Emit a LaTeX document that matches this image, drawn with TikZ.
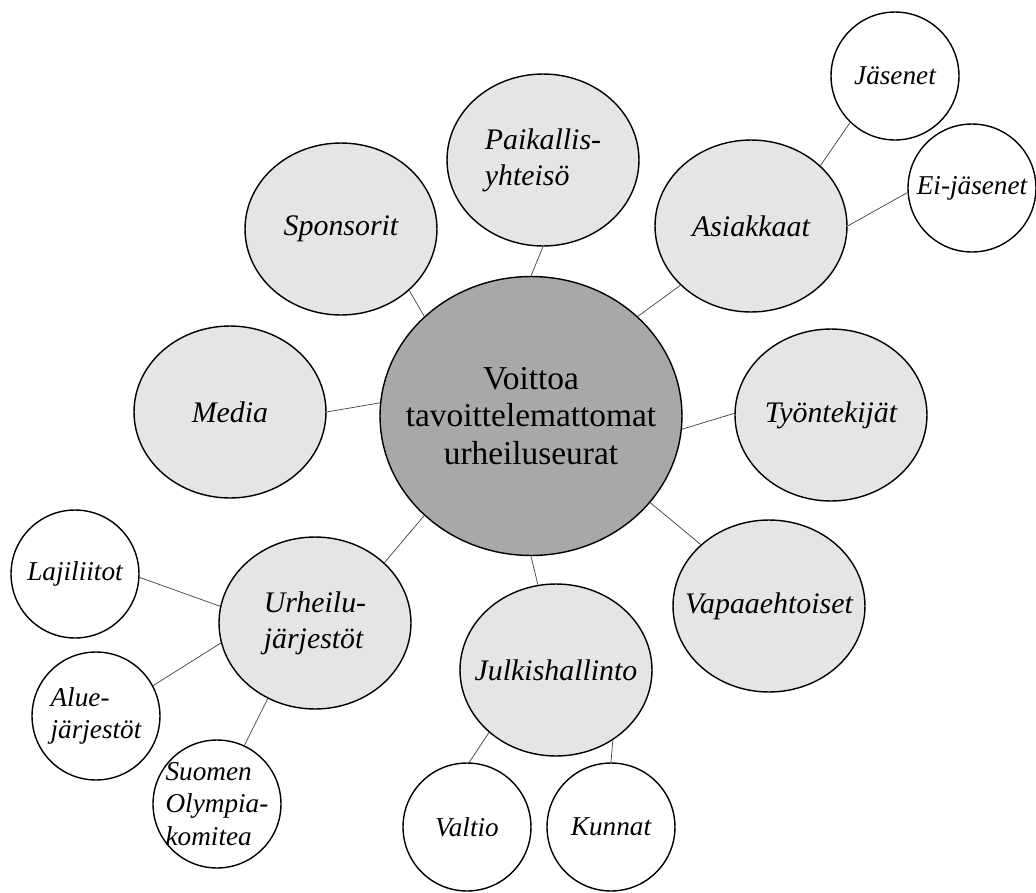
\documentclass[tikz,border=0pt]{standalone}
\usepackage{fontspec}
\setmainfont{Liberation Serif}
\usepackage{tikz}
\usetikzlibrary{shapes.geometric}

\begin{document}
\begin{tikzpicture}[x=0.02cm,y=-0.02cm,
    lbl/.style={font=\fontsize{17}{20.5}\selectfont\itshape,align=left,inner sep=0pt},
    hub/.style={ellipse,draw,line width=0.8pt,fill=black!34,inner sep=0pt,
        minimum width=6.04cm,minimum height=5.58cm,
        label={[lbl,font=\fontsize{19}{21.5}\selectfont,align=center]center:#1}},
    group/.style={ellipse,draw,line width=0.8pt,fill=black!10,inner sep=0pt,
        minimum width=3.84cm,minimum height=3.44cm,label={[lbl]center:#1}},
    member/.style={circle,draw,line width=0.8pt,fill=white,inner sep=0pt,
        minimum size=2.56cm,label={[lbl,font=\fontsize{15.5}{18.5}\selectfont\itshape]center:#1}},
    link/.style={draw=black!75,line width=0.4pt}]
      \useasboundingbox (0,0) rectangle (1036,893);
      \node[hub={Voittoa\\tavoittelemattomat\\urheiluseurat}] (hub) at (531,416) {};
      \node[group={Sponsorit}] (spons) at (341,229) {};
      \node[group={Paikallis-\\yhteisö}] (paik) at (543,160) {};
      \node[group={Asiakkaat}] (asiak) at (751,226) {};
      \node[group={Media}] (media) at (230,412) {};
      \node[group={Työntekijät}] (tyon) at (831,415) {};
      \node[group={Vapaaehtoiset}] (vapaa) at (769,606) {};
      \node[group={Julkishallinto}] (julk) at (556,670) {};
      \node[group={Urheilu-\\järjestöt}] (urh) at (315,623) {};
      \node[member={Jäsenet}] (jas) at (895,76) {};
      \node[member={Ei-jäsenet}] (eij) at (972,188) {};
      \node[member={Lajiliitot}] (laji) at (75,574) {};
      \node[member={Alue-\\järjestöt}] (alue) at (96,716) {};
      \node[member={Suomen\\Olympia-\\komitea}] (suomen) at (217,804) {};
      \node[member={Valtio}] (valtio) at (467,827) {};
      \node[member={Kunnat}] (kunnat) at (611,827) {};
      \path
      (media.east) edge [link] (hub.175)
      (tyon.179) edge [link] (hub.-5)
      (spons.-42) edge [link] (hub.137)
      (paik.south) edge [link] (hub.north)
      (asiak.220) edge [link] (hub.43)
      (urh.41) edge [link] (hub.223)
      (julk.102) edge [link] (hub.south)
      (vapaa.138) edge [link] (hub.-36);
      \path
      (asiak.41) edge [link] (jas.226)
      (asiak.east) edge [link] (eij.184)
      (urh.170) edge [link] (laji.-3)
      (urh.192) edge [link] (alue.28)
      (urh.238) edge [link] (suomen.65)
      (julk.223) edge [link] (valtio.88)
      (julk.-51) edge [link] (kunnat.north);
\end{tikzpicture}
\end{document}
